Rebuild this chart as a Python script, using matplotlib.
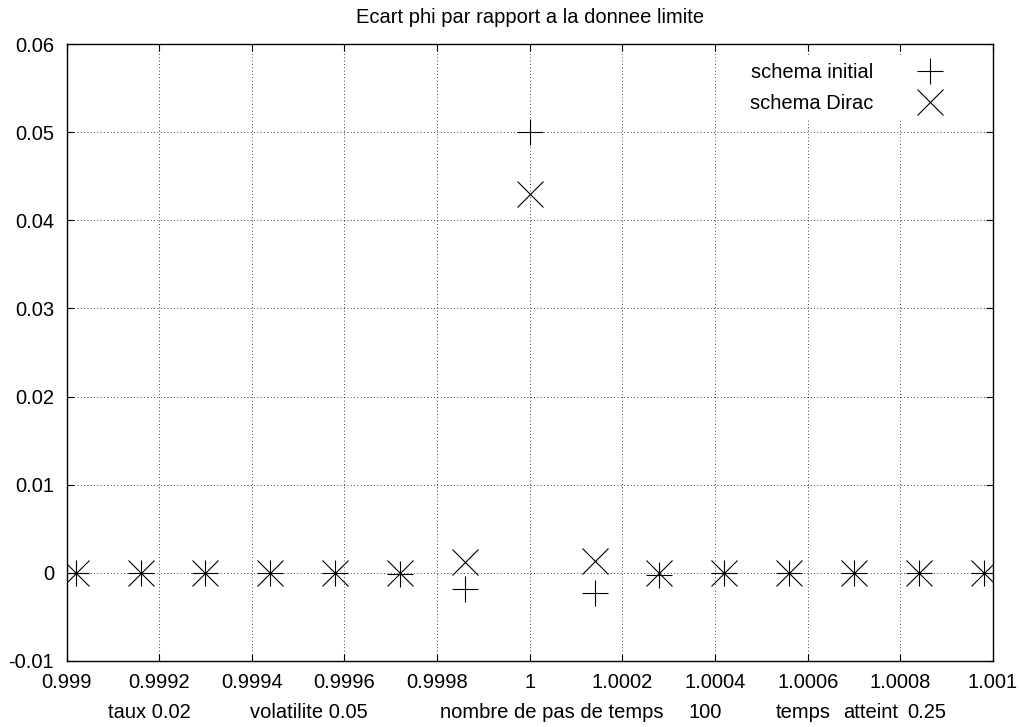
import matplotlib
matplotlib.use("Agg")
import matplotlib.pyplot as plt

plt.rcParams.update({
    "font.family": ["Liberation Sans", "DejaVu Sans"],
    "font.size": 14.5,
})

# Data
x = [0.99902, 0.99916, 0.99930, 0.99944, 0.99958, 0.99972, 0.99986, 1.00000,
     1.00014, 1.00028, 1.00042, 1.00056, 1.00070, 1.00084, 1.00098]
schema_initial = [0.0, 0.0, 0.0, 0.0, 0.0, -0.0001, -0.0018, 0.050,
                  -0.0023, -0.0002, 0.0, 0.0, 0.0, 0.0, 0.0]
schema_dirac = [0.0, 0.0, 0.0, 0.0, 0.0, 0.0, 0.0012, 0.043,
                0.0014, 0.0, 0.0, 0.0, 0.0, 0.0, 0.0]

xticks = [0.999, 0.9992, 0.9994, 0.9996, 0.9998, 1.0,
          1.0002, 1.0004, 1.0006, 1.0008, 1.001]
xtick_labels = ["0.999", "0.9992", "0.9994", "0.9996", "0.9998", "1",
                "1.0002", "1.0004", "1.0006", "1.0008", "1.001"]
yticks = [-0.01, 0.0, 0.01, 0.02, 0.03, 0.04, 0.05, 0.06]
ytick_labels = ["-0.01", "0", "0.01", "0.02", "0.03", "0.04", "0.05", "0.06"]

# run parameters printed under the axis
param_texts = ["taux 0.02", "volatilite 0.05", "nombre de pas de temps", "100",
               "temps", "atteint", "0.25"]
param_left_px = [108, 250, 440, 688, 776, 843, 907]

fig = plt.figure(figsize=(10.22, 7.27), dpi=100)
ax = fig.add_axes([66.5 / 1022, 1 - 661 / 727, 926.5 / 1022, 617 / 727])

ax.plot(x, schema_initial, ls="none", marker="+", ms=18.5, mew=0.8,
        color="black", label="schema initial", zorder=3)
ax.plot(x, schema_dirac, ls="none", marker="x", ms=18.5, mew=0.8,
        color="black", label="schema Dirac", zorder=3)

ax.set_xlim(0.999, 1.001)
ax.set_ylim(-0.01, 0.06)
ax.set_xticks(xticks)
ax.set_xticklabels(xtick_labels)
ax.set_yticks(yticks)
ax.set_yticklabels(ytick_labels)
ax.tick_params(direction="in", length=5, width=0.8, top=True, right=True,
               pad=9, labelsize=14.5)
ax.grid(True, color="black", ls=(0, (1, 3)), lw=0.6)
for s in ax.spines.values():
    s.set_linewidth(1.0)

ax.set_title("Ecart phi par rapport a la donnee limite", fontsize=14.5, pad=15)

for txt, px in zip(param_texts, param_left_px):
    fig.text(px / 1022, 1 - 713 / 727, txt, ha="left", va="center", fontsize=14.5)

leg = ax.legend(loc="upper right", bbox_to_anchor=(1 - 24 / 926.5, 1),
                markerfirst=False, frameon=True, framealpha=1,
                edgecolor="none", fontsize=14.5, borderaxespad=0.58,
                borderpad=0.35, handlelength=2.0, handletextpad=1.8,
                labelspacing=0.6)
leg.get_frame().set_boxstyle("square", pad=0)

fig.savefig("out.png", dpi=100, facecolor="white")
